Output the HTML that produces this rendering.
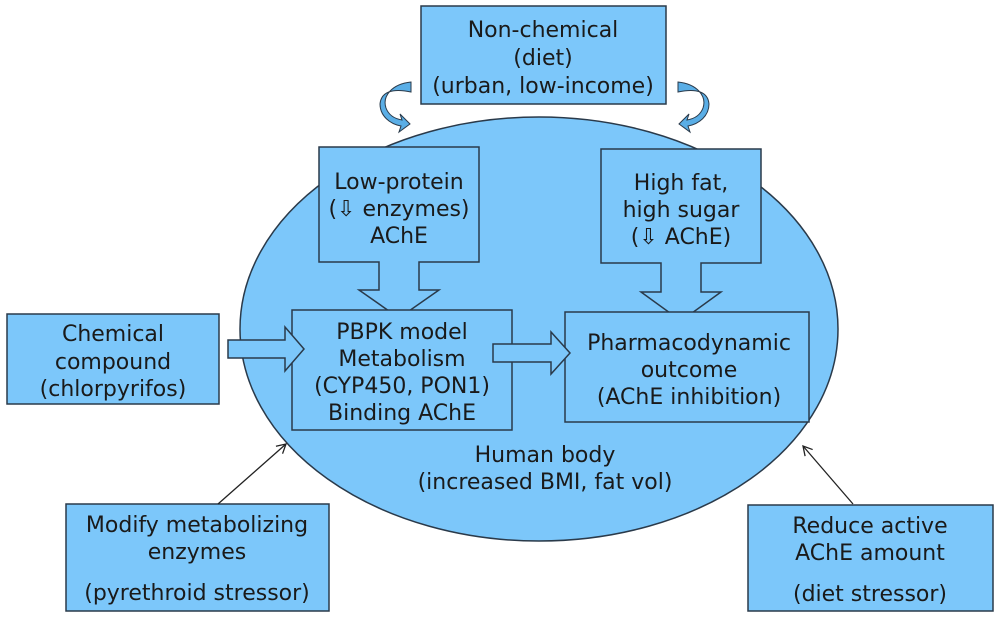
<!DOCTYPE html>
<html><head><meta charset="utf-8"><style>
html,body{margin:0;padding:0;background:#fff;}
svg{display:block;}
text{font-family:"DejaVu Sans","Liberation Sans",sans-serif;font-size:22px;fill:#1a1a1a;text-anchor:middle;}
</style></head><body>
<svg width="1000" height="619" viewBox="0 0 1000 619" xmlns="http://www.w3.org/2000/svg">
<defs>
<marker id="ah" markerWidth="12" markerHeight="12" refX="10" refY="6" orient="auto" markerUnits="userSpaceOnUse">
<path d="M1,1 L10,6 L1,11" fill="none" stroke="#222" stroke-width="1.3"/>
</marker>
</defs>
<g stroke="#2a3a4a" stroke-width="1.5" fill="#7cc7fa">
<ellipse cx="539" cy="329" rx="299" ry="212"/>
<rect x="421" y="6" width="245" height="98"/>
<path d="M319,147 H479 V262 H419 V290 H439 L399,318 L359,290 H379 V262 H319 Z"/>
<path d="M601,149 H761 V263 H701 V292 H721 L681,321 L641,292 H661 V263 H601 Z"/>
<rect x="292" y="310" width="220" height="120"/>
<rect x="565" y="312" width="244" height="110"/>
<rect x="7" y="314" width="212" height="90"/>
<rect x="66" y="504" width="263" height="107"/>
<rect x="748" y="505" width="245" height="106"/>
<path d="M228,340 H285 V327 L304,349 L285,371 V358 H228 Z"/>
<path d="M493,344 H551 V332 L570,353 L551,374 V362 H493 Z"/>
</g>
<g stroke="#2a3a4a" stroke-width="1" fill="#5aaee6">
<path d="M411,82 C392,84 382,96 386,108 C389,116 396,119 402,120 L400,114 L410,124 L399,132 L401,126 C390,124 380,116 380,104 C381,92 392,88 411,92 Z"/>
<path d="M678,82 C697,84 707,96 703,108 C700,116 693,119 687,120 L689,114 L679,124 L690,132 L688,126 C699,124 709,116 709,104 C708,92 697,88 678,92 Z"/>
</g>
<line x1="218" y1="504" x2="286" y2="444" stroke="#222" stroke-width="1.3" marker-end="url(#ah)"/>
<line x1="853" y1="504" x2="803" y2="446" stroke="#222" stroke-width="1.3" marker-end="url(#ah)"/>
<text x="543" y="37">Non-chemical</text>
<text x="543" y="65">(diet)</text>
<text x="543" y="93">(urban, low-income)</text>
<text x="399" y="189">Low-protein</text>
<text x="399" y="216">(⇩ enzymes)</text>
<text x="399" y="243">AChE</text>
<text x="681" y="190">High fat,</text>
<text x="681" y="217">high sugar</text>
<text x="681" y="244">(⇩ AChE)</text>
<text x="402" y="339">PBPK model</text>
<text x="402" y="366">Metabolism</text>
<text x="402" y="393">(CYP450, PON1)</text>
<text x="402" y="420">Binding AChE</text>
<text x="689" y="350">Pharmacodynamic</text>
<text x="689" y="377">outcome</text>
<text x="689" y="404">(AChE inhibition)</text>
<text x="113" y="341">Chemical</text>
<text x="113" y="369">compound</text>
<text x="113" y="396">(chlorpyrifos)</text>
<text x="545" y="462">Human body</text>
<text x="545" y="489">(increased BMI, fat vol)</text>
<text x="197" y="532">Modify metabolizing</text>
<text x="197" y="559">enzymes</text>
<text x="197" y="600">(pyrethroid stressor)</text>
<text x="870" y="533">Reduce active</text>
<text x="870" y="560">AChE amount</text>
<text x="870" y="601">(diet stressor)</text>
</svg>
</body></html>
